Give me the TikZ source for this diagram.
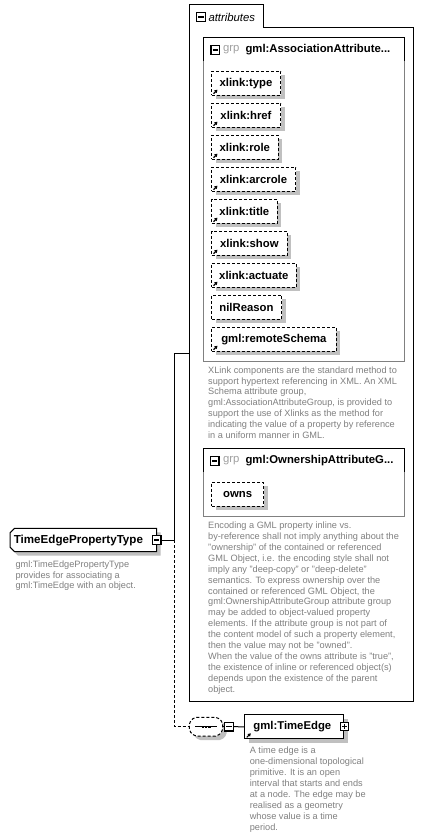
\documentclass[tikz,border=0pt]{standalone}
\usepackage{fontspec}
\setmainfont{Liberation Sans}
\usetikzlibrary{shadows,arrows.meta}
\definecolor{descgray}{RGB}{128,128,128}
\definecolor{grpgray}{RGB}{128,128,128}
\definecolor{lightgray}{RGB}{160,160,160}
\definecolor{shadowgray}{RGB}{192,192,192}
\tikzset{
  namefont/.style={font=\fontsize{8.5}{10}\selectfont\bfseries},
  descfont/.style={font=\fontsize{6.9}{8.175}\selectfont, text=descgray, align=left, inner sep=0, anchor=north west},
  shadowed/.style={drop shadow={shadow xshift=3pt, shadow yshift=-3pt, fill=shadowgray, opacity=1}},
  dashline/.style={dash pattern=on 2.25pt off 1.5pt},
  attrbox/.style={draw, dashline, fill=white, shadowed, namefont, anchor=north west,
    minimum height=18pt, inner sep=0, minimum width=#1*0.75pt},
  elembox/.style={draw, fill=white, shadowed, namefont, anchor=north west,
    minimum height=18pt, inner sep=0, minimum width=#1*0.75pt},
  refarrow/.style={line width=0.9pt, -{Triangle[length=2.2pt, width=2.6pt]}},
  minusbox/.style={draw, line width=0.9pt, fill=white, minimum size=6.4pt, inner sep=0,
    path picture={\draw[line width=0.9pt] ([xshift=1.2pt]path picture bounding box.west) -- ([xshift=-1.2pt]path picture bounding box.east);}},
  plusbox/.style={draw, line width=0.9pt, fill=white, minimum size=6.4pt, inner sep=0,
    path picture={\draw[line width=0.9pt] ([xshift=1.2pt]path picture bounding box.west) -- ([xshift=-1.2pt]path picture bounding box.east);
      \draw[line width=0.9pt] ([yshift=-1.2pt]path picture bounding box.north) -- ([yshift=1.2pt]path picture bounding box.south);}},
  conn/.style={line width=0.75pt},
}
\begin{document}
\begin{tikzpicture}[x=0.75pt,y=-0.75pt,line width=0.75pt]
\useasboundingbox[fill=white] (0,0) rectangle (423,838);

% attributes container
\draw (189,5) -- (263,5) -- (263,28) -- (413,28) -- (413,701) -- (189,701) -- cycle;
\node[minusbox] (attmin) at (201,17) {};
\node[font=\fontsize{8.5}{10}\selectfont\itshape, anchor=west, inner sep=0] (atttitle) at (208,17) {attributes};

% group 1
\draw[grpgray] (203.3,37.3) rectangle (404.3,361.7);
\draw (203.3,61) -- (203.3,37.3) -- (404.3,37.3) -- (404.3,61);
\node[minusbox] (g1min) at (215.2,50) {};
\node[font=\fontsize{8.5}{10}\selectfont, text=lightgray, anchor=west, inner sep=0] (g1grp) at (222.5,50) {grp};
\node[namefont, anchor=west, inner sep=0] (g1title) at (245,50) {gml:AssociationAttribute...};

\node[attrbox=69] (a1) at (211,70.7) {xlink:type};
\node[attrbox=69] (a2) at (211,102.7) {xlink:href};
\node[attrbox=66.7] (a3) at (211,134.7) {xlink:role};
\node[attrbox=84] (a4) at (211,166.7) {xlink:arcrole};
\node[attrbox=65.7] (a5) at (211,198.7) {xlink:title};
\node[attrbox=75.7] (a6) at (211,230.7) {xlink:show};
\node[attrbox=84.7] (a7) at (211,262.7) {xlink:actuate};
\node[attrbox=70] (a8) at (211,294.7) {nilReason};
\node[attrbox=124.7] (a9) at (211,326.7) {gml:remoteSchema};
\foreach \n in {a1,a2,a3,a4,a5,a6,a7,a9}{
  \draw[refarrow] ([shift={(2.5,-2)}]\n.south west) -- ++(4,-4);
}

\node[descfont] (d1) at (207.7,366) {XLink components are the standard method to\\
support hypertext referencing in XML. An XML\\
Schema attribute group,\\
gml:AssociationAttributeGroup, is provided to\\
support the use of Xlinks as the method for\\
indicating the value of a property by reference\\
in a uniform manner in GML.};

% group 2
\draw[grpgray] (203.3,448.3) rectangle (404.3,516);
\draw (203.3,471.7) -- (203.3,448.3) -- (404.3,448.3) -- (404.3,471.7);
\node[minusbox] (g2min) at (214.7,461) {};
\node[font=\fontsize{8.5}{10}\selectfont, text=lightgray, anchor=west, inner sep=0] (g2grp) at (222.5,461) {grp};
\node[namefont, anchor=west, inner sep=0] (g2title) at (245,461) {gml:OwnershipAttributeG...};
\node[attrbox=52.3] (a10) at (211,481.7) {owns};

\node[descfont] (d2) at (207.7,521.5) {Encoding a GML property inline vs.\\
by-reference shall not imply anything about the\\
"ownership" of the contained or referenced\\
GML Object, i.e. the encoding style shall not\\
imply any "deep-copy" or "deep-delete"\\
semantics. To express ownership over the\\
contained or referenced GML Object, the\\
gml:OwnershipAttributeGroup attribute group\\
may be added to object-valued property\\
elements. If the attribute group is not part of\\
the content model of such a property element,\\
then the value may not be "owned".\\
When the value of the owns attribute is "true",\\
the existence of inline or referenced object(s)\\
depends upon the existence of the parent\\
object.};

% TimeEdgePropertyType (chamfered left corners)
\fill[shadowgray] (18,532.3) -- (160.7,532.3) -- (160.7,555.7) -- (18,555.7) -- (14,551.7) -- (14,536.3) -- cycle;
\draw[fill=white] (14.5,528.3) -- (156.7,528.3) -- (156.7,551.7) -- (14.5,551.7) -- (10,547.2) -- (10,532.8) -- cycle;
\node[inner sep=0, minimum width=110pt, minimum height=17.5pt, anchor=north west,
  label={[font=\fontsize{8.7}{10}\selectfont\bfseries, anchor=west, label distance=-2.5pt, inner sep=0]west:TimeEdgePropertyType}] (tept) at (10,528.3) {};
\node[minusbox] (teptmin) at (156.7,540) {};
\node[descfont] (d3) at (15,560) {gml:TimeEdgePropertyType\\
provides for associating a\\
gml:TimeEdge with an object.};

% sequence compositor (rounded octagon, dashed)
\fill[shadowgray, rounded corners=1.5pt] (198.3,721.3) -- (221.7,721.3) -- (226.7,726.3) -- (226.7,735) -- (221.7,740) -- (198.3,740) -- (193.3,735) -- (193.3,726.3) -- cycle;
\draw[dashline, fill=white, rounded corners=1.5pt] (194.3,717.3) -- (217.7,717.3) -- (222.7,722.3) -- (222.7,731) -- (217.7,736) -- (194.3,736) -- (189.3,731) -- (189.3,722.3) -- cycle;
\node[inner sep=0, minimum width=25pt, minimum height=14pt] (seq) at (206,726.7) {};
\draw[line width=0.9pt] ([xshift=-8.25pt]seq.center) -- ([xshift=8.25pt]seq.center);
\foreach \dx in {-3.3,0,3.3}{
  \fill ([shift={(\dx-1.2,-1.2)}]seq.center) rectangle ++(2.4,2.4);
}
\node[minusbox] (seqmin) at (229,726.7) {};

% TimeEdge
\node[elembox=99] (te) at (244.3,714.3) {gml:TimeEdge\hspace*{3pt}};
\draw[refarrow] ([shift={(2.5,-2)}]te.south west) -- ++(4,-4);
\node[plusbox] (teplus) at (344.5,726.5) {};
\node[descfont] (d4) at (249.3,746.7) {A time edge is a\\
one-dimensional topological\\
primitive. It is an open\\
interval that starts and ends\\
at a node. The edge may be\\
realised as a geometry\\
whose value is a time\\
period.};

% connectors
\coordinate (attin) at (189,353.3);
\coordinate (jn) at (174.3,540);
\draw[conn] (teptmin.east) -- (jn);
\draw[conn] (jn) |- (attin);
\draw[conn, dashline] (jn) |- (seq.west);
\draw[conn] (seq.east) -- (seqmin.west);
\draw[conn] (seqmin.east) -- (te.west);
\end{tikzpicture}
\end{document}
